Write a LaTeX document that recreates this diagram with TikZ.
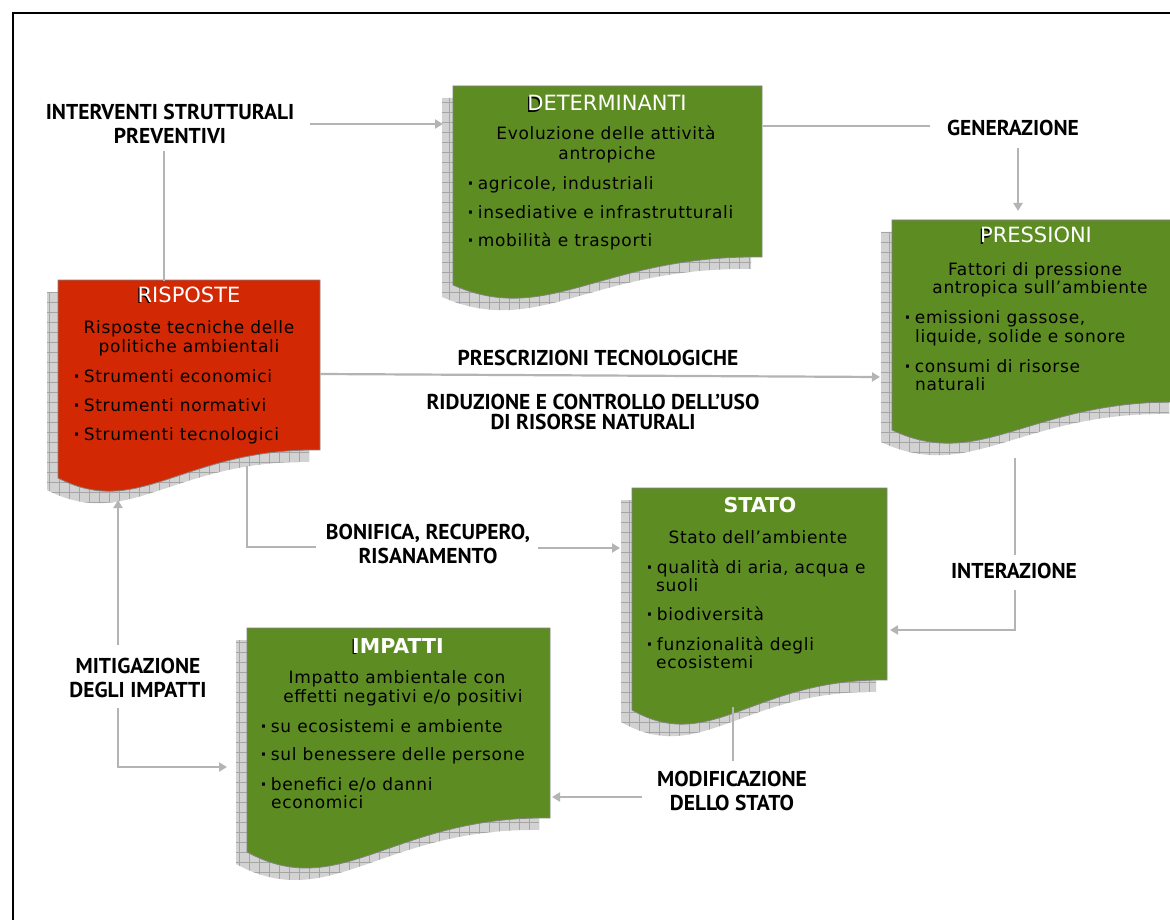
\documentclass[tikz,border=0pt]{standalone}
\usepackage{fontspec}
\setmainfont{DejaVu Sans}
\newfontfamily\bodyfont{DejaVu Sans}[LetterSpace=4]
\newfontfamily\titlefont{DejaVu Sans}
\newfontfamily\lblfont{PT Sans}
\usetikzlibrary{arrows.meta}
\definecolor{boxgreen}{RGB}{93,140,34}
\definecolor{boxred}{RGB}{211,40,4}
\definecolor{shfill}{RGB}{210,210,210}
\definecolor{shgrid}{RGB}{165,165,165}
\definecolor{conncol}{RGB}{180,180,180}
\definecolor{boxedge}{RGB}{130,130,130}
\tikzset{
 shadowfill/.style={fill=shfill},
 shadowgrid/.style={draw=shgrid,line width=0.5pt},
 body/.style={inner sep=0pt,font=\bodyfont\fontsize{17}{20}\selectfont,text=black},
 ttl/.style={inner sep=0pt,font=\titlefont\fontsize{21}{24}\selectfont,text=white},
 ttlb/.style={inner sep=0pt,font=\titlefont\bfseries\fontsize{20.5}{24}\selectfont,text=white},
 lbl/.style={inner sep=0pt,font=\lblfont\bfseries\fontsize{21.5}{23.5}\selectfont,align=center,text=black},
 conn/.style={draw=conncol,line width=2.2pt},
 arr/.style={conn,-{Triangle[length=8pt,width=9pt]}},
}
\newcommand\firstl[1]{\makebox[0pt][l]{\kern-1.3pt\raisebox{-1.3pt}{\color{black}#1}}#1}
\newcommand\docbox[7]{%
 \pgfmathsetmacro\dw{#5-#3}%
 \pgfmathsetmacro\dd{#7-#6}%
 \pgfmathsetmacro\cax{#3+0.31*\dw}\pgfmathsetmacro\cay{#7+1.5*\dd}%
 \pgfmathsetmacro\cbx{#3+0.48*\dw}\pgfmathsetmacro\cby{#6-0.07*\dd}%
 \def\docp{(#3,#4) -- (#5,#4) -- (#5,#6) .. controls (\cbx,\cby) and (\cax,\cay) .. (#3,#7) -- cycle}%
 \begin{scope}[shift={(-11,12)}]
   \fill[shadowfill] \docp;
   \begin{scope}
     \clip \docp;
     \draw[shadowgrid,step=10pt] (#3-10,#4-10) grid (#5+10,#7+60);
   \end{scope}
 \end{scope}
 \fill[#2,draw=boxedge,line width=0.8pt] \docp;
 \coordinate (#1-nw) at (#3,#4);
}
\newcommand\bitem[4]{\node[body,anchor=base west] (#1) at ({#2-2.8},#3) {\makebox[10.5pt][l]{\bfseries ·}#4};}
\begin{document}
\begin{tikzpicture}[x=1pt,y=-1pt]
\useasboundingbox (0,0) rectangle (1170,920);
\clip (0,0) rectangle (1170,920);
\fill[white] (0,0) rectangle (1170,920);
\draw[line width=2.5pt,black] (13,930) -- (13,13) -- (1180,13);

% boxes
\docbox{det}{boxgreen}{453}{86}{762}{257}{285}
\docbox{ris}{boxred}{58}{280}{320}{450}{478}
\docbox{pre}{boxgreen}{892}{220}{1180}{402}{430}
\docbox{sta}{boxgreen}{632}{488}{887}{680}{710}
\docbox{imp}{boxgreen}{247}{628}{550}{818}{852}

% DETERMINANTI
\node[ttl,anchor=base] (det-t) at (607,111) {\firstl{D}ETERMINANTI};
\node[body,anchor=base] (det-a) at (606,140) {Evoluzione delle attività};
\node[body,anchor=base] (det-b) at (607,160) {antropiche};
\bitem{det-c}{470}{190}{agricole, industriali}
\bitem{det-d}{470}{219}{insediative e infrastrutturali}
\bitem{det-e}{470}{247}{mobilità e trasporti}

% RISPOSTE
\node[ttl,anchor=base] (ris-t) at (189,302) {\firstl{R}ISPOSTE};
\node[body,anchor=base] (ris-a) at (189,333) {Risposte tecniche delle};
\node[body,anchor=base] (ris-b) at (189,352) {politiche ambientali};
\bitem{ris-c}{76}{382}{Strumenti economici}
\bitem{ris-d}{76}{411}{Strumenti normativi}
\bitem{ris-e}{76}{440}{Strumenti tecnologici}

% PRESSIONI
\node[ttl,anchor=base] (pre-t) at (1036,243) {\firstl{P}RESSIONI};
\node[body,anchor=base] (pre-a) at (1035,275) {Fattori di pressione};
\node[body,anchor=base] (pre-b) at (1040,293) {antropica sull’ambiente};
\bitem{pre-c}{907}{323}{emissioni gassose,}
\node[body,anchor=base west] (pre-d) at (915,342) {liquide, solide e sonore};
\bitem{pre-e}{907}{372}{consumi di risorse}
\node[body,anchor=base west] (pre-f) at (915,390) {naturali};

% STATO
\node[ttlb,anchor=base] (sta-t) at (760,512) {STATO};
\node[body,anchor=base] (sta-a) at (758,543) {Stato dell’ambiente};
\bitem{sta-c}{649}{573}{qualità di aria, acqua e}
\node[body,anchor=base west] (sta-d) at (656,591) {suoli};
\bitem{sta-e}{649}{620}{biodiversità}
\bitem{sta-f}{649}{650}{funzionalità degli}
\node[body,anchor=base west] (sta-g) at (656,668) {ecosistemi};

% IMPATTI
\node[ttlb,anchor=base] (imp-t) at (398,653) {\firstl{I}MPATTI};
\node[body,anchor=base] (imp-a) at (397,683) {Impatto ambientale con};
\node[body,anchor=base] (imp-b) at (403,702) {effetti negativi e/o positivi};
\bitem{imp-c}{263}{732}{su ecosistemi e ambiente}
\bitem{imp-d}{263}{760}{sul benessere delle persone}
\bitem{imp-e}{263}{790}{benefici e/o danni}
\node[body,anchor=base west] (imp-f) at (271,808) {economici};

% labels
\node[lbl] (lint) at (170,124) {INTERVENTI STRUTTURALI\\PREVENTIVI};
\node[lbl] (lgen) at (1013,128) {GENERAZIONE};
\node[lbl] (lpre) at (598,358) {PRESCRIZIONI TECNOLOGICHE};
\node[lbl] (lrid) at (593,412) {RIDUZIONE E CONTROLLO DELL’USO\\[-4pt]DI RISORSE NATURALI};
\node[lbl] (lbon) at (428,544) {BONIFICA, RECUPERO,\\RISANAMENTO};
\node[lbl] (lintz) at (1014,571) {INTERAZIONE};
\node[lbl] (lmit) at (138,678) {MITIGAZIONE\\DEGLI IMPATTI};
\node[lbl] (lmod) at (732,791) {MODIFICAZIONE\\DELLO STATO};

% connector points
\coordinate (a1) at (310,124); \coordinate (a2) at (443,124);
\coordinate (b1) at (164,281); \coordinate (b2) at (164,151);
\coordinate (c1) at (763,126); \coordinate (c2) at (930,126);
\coordinate (c3) at (1018,148); \coordinate (c4) at (1018,211);
\coordinate (e1) at (320,374); \coordinate (e2) at (880,377);
\coordinate (f1) at (247,466); \coordinate (f2) at (247,547); \coordinate (f3) at (316,547);
\coordinate (f4) at (538,548); \coordinate (f5) at (620,548);
\coordinate (g1) at (1015,458); \coordinate (g2) at (1015,555);
\coordinate (g3) at (1015,590); \coordinate (g4) at (1015,630); \coordinate (g5) at (890,630);
\coordinate (h1) at (733,707); \coordinate (h2) at (733,761);
\coordinate (h3) at (642,797); \coordinate (h4) at (552,797);
\coordinate (m1) at (118,645); \coordinate (m2) at (118,500);
\coordinate (m3) at (118,708); \coordinate (m4) at (118,767); \coordinate (m5) at (227,767);

% connectors
\draw[arr] (a1) -- (a2);
\draw[conn] (b1) -- (b2);
\draw[conn] (c1) -- (c2);
\draw[arr] (c3) -- (c4);
\draw[arr] (e1) -- (e2);
\draw[conn] (f1) -- (f2) -- (f3);
\draw[arr] (f4) -- (f5);
\draw[conn] (g1) -- (g2);
\draw[arr] (g3) -- (g4) -- (g5);
\draw[conn] (h1) -- (h2);
\draw[arr] (h3) -- (h4);
\draw[arr] (m1) -- (m2);
\draw[arr] (m3) -- (m4) -- (m5);
\end{tikzpicture}
\end{document}
